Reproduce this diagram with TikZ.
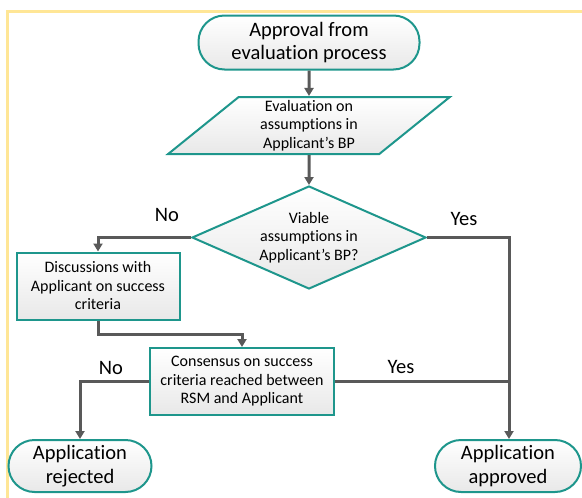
\documentclass[tikz,border=0pt]{standalone}
\usepackage{fontspec}
\setmainfont{Carlito}[Ligatures=CommonOff]
\usetikzlibrary{shapes.geometric,arrows.meta}
\definecolor{teal1}{RGB}{30,150,140}
\definecolor{lineg}{RGB}{89,89,89}
\definecolor{frameyel}{RGB}{255,230,150}
\tikzset{
  boxfill/.style={draw=teal1, line width=2pt, top color=white, bottom color=black!9},
  term/.style={boxfill, rectangle, rounded corners=26pt, align=center, font=\fontsize{20.5}{23.5}\selectfont, inner sep=0pt},
  procbox/.style={boxfill, rectangle, align=center, font=\fontsize{16}{18.5}\selectfont, inner sep=0pt},
  iobox/.style={boxfill, trapezium, trapezium left angle=46, trapezium right angle=134, trapezium stretches=true, align=center, font=\fontsize{16}{18.5}\selectfont, inner sep=0pt},
  decbox/.style={boxfill, diamond, aspect=2.27, align=center, font=\fontsize{16}{18.5}\selectfont, inner sep=0pt},
  conn/.style={draw=lineg, line width=3pt, -{Triangle[length=8pt,width=9pt]}},
  connplain/.style={draw=lineg, line width=3pt},
  lbl/.style={font=\fontsize{20.5}{23}\selectfont, inner sep=0pt}
}
\begin{document}
\begin{tikzpicture}[x=1pt,y=-1pt]
\useasboundingbox (0,0) rectangle (582,498);
\draw[frameyel, line width=3pt] (585,11.5) -- (7.5,11.5) -- (7.5,500);
\node[term, minimum width=221pt, minimum height=54pt] (start) at (309,42.5) {Approval from\\evaluation process};
\node[iobox, minimum width=282pt, minimum height=57pt] (eval) at (309,125.5) {Evaluation on\\assumptions in\\Applicant’s BP};
\node[decbox, minimum width=234pt, minimum height=103pt] (dec) at (309,237.5) {Viable\\assumptions in\\Applicant’s BP?};
\node[procbox, minimum width=163pt, minimum height=67pt] (disc) at (98,286) {Discussions with\\Applicant on success\\criteria};
\node[procbox, minimum width=184pt, minimum height=67pt] (cons) at (242,381.5) {Consensus on success\\criteria reached between\\RSM and Applicant};
\node[term, minimum width=143pt, minimum height=52pt] (rej) at (80,466) {Application\\rejected};
\node[term, minimum width=146pt, minimum height=52pt] (appr) at (508,466) {Application\\approved};
\coordinate (join) at (509,381.5);
\node[lbl] (lno1) at (167,215) {No};
\node[lbl] (lyes1) at (464,219) {Yes};
\node[lbl] (lno2) at (111,368) {No};
\node[lbl] (lyes2) at (401,367) {Yes};
\draw[conn] (start.south) -- (eval.north);
\draw[conn] (eval.south) -- (dec.north);
\draw[conn] (dec.west) -| (disc.north);
\draw[conn] (dec.east) -| (join) -- (join |- appr.north);
\draw[conn] (disc.south) -- ++(0,13.5) -| (cons.north);
\draw[conn] (cons.west) -| (rej.north);
\draw[connplain] (cons.east) -- (join);
\end{tikzpicture}
\end{document}
